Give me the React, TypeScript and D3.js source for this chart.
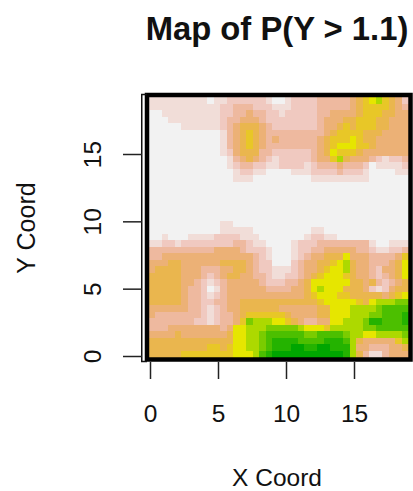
// App.tsx - map of P(Y > 1.1), drawn like an R image() plot
import React, { useRef, useEffect } from 'react';
import { select, scaleLinear, scaleBand, scaleOrdinal, axisBottom, axisLeft, range } from 'd3';

const WIDTH = 413;
const HEIGHT = 491;

const xTicks = [0, 5, 10, 15];
const yTicks = [0, 5, 10, 15];

// probability classes, low to high
const levels = '0123456789abc'.split('');
const levelColors = [
    '#F2F2F2', '#F1DDD8', '#F0C9C0', '#EEB99F', '#ECB176', '#EAB64E', '#E8C727',
    '#E6E600', '#ADD900', '#7ACC00', '#4CBF00', '#24B300', '#00A600',
];

// one string per row from the top of the map, one character per cell
const grid = [
    '1111111110 1122222210 0122223333 3456786542',
    '1111111111 1223332221 1122223333 3456666543',
    '0011111111 1223343322 1222223344 4456665544',
    '0001111111 1233444322 2222223444 5566655444',
    '0000011111 1234555432 2222223445 6566655444',
    '0000000000 0134565433 3333333456 6665554444',
    '0000000000 0134565434 3333334566 6765544444',
    '0000000000 0134565433 3333334567 7766544444',
    '0000000000 0124555332 2222234576 6654444444',
    '0000000000 0013454321 2222234468 5444321223',
    '0000000000 0012332211 2222123334 3332011112',
    '0000000000 0001221100 0011122223 2221000011',
    '0000000000 0001110000 0000011111 1111000000',
    '0000000000 0000000000 0000000000 0000000000',
    '0000000000 0000000000 0000000000 0000000000',
    '0000000000 0000000000 0000000000 0000000000',
    '0000000000 0000000000 0000000000 0000000000',
    '0000000000 0000000000 0000000000 0000000000',
    '0000000000 0000000000 0000000000 0000000000',
    '0000000000 0110000000 0000000000 0000000000',
    '0000000000 0111110000 0000011000 0000000000',
    '0010001111 2222111000 0000122110 0000000000',
    '1122122222 2223321100 0012223333 3333100111',
    '3333333333 4444322210 0012233444 4433211223',
    '3344444444 4444443210 0012344555 7444333346',
    '4445544444 4555543220 0023445567 8544333457',
    '4555544433 3445543221 1123445677 8544324457',
    '5555544432 3455443321 1223456777 6544323457',
    '5555544321 2344444322 2334577777 7554532345',
    '5555543320 1344444433 3344578777 5554212455',
    '5555543321 2344444444 4444567776 6555554567',
    '5555543322 3344555555 5555556777 7765788899',
    '4444443321 2344555555 4444445577 788889aaaa',
    '4333333321 2334566666 6544445577 788899aaab',
    '3333333221 2334698887 7654334477 8889bbaaab',
    '3334444444 4347788899 9998777688 88899aaaaa',
    '4444544444 4457788 9aa aaaa99aaaa 9887788889',
    '5555555555 5557788 9ab bbbaaaabbb a854444468',
    '5555555556 6567788 9ab bbccbbccbb b844333445',
    '5555566666 6667778abc cccccccccc b853113444',
].map(row => row.replace(/ /g, '').split(''));

const FONT = 'Liberation Sans';

const Chart = () => {
    const ref = useRef<SVGSVGElement>(null);

    useEffect(() => {
        const svg = select(ref.current);
        svg.selectAll('*').remove();

        // plot region inside the frame
        const left = 149, right = 408, top = 97, bottom = 357;

        const x = scaleLinear().domain([0, 15]).range([150, 354]);
        const y = scaleLinear().domain([0, 15]).range([356, 154]);
        const col = scaleBand<number>().domain(range(40)).range([left, right]);
        const row = scaleBand<number>().domain(range(40)).range([top, bottom]);
        const color = scaleOrdinal<string, string>().domain(levels).range(levelColors);

        // the reference is a soft, upscaled screenshot
        const blur = svg.append('filter')
            .attr('id', 'soft')
            .attr('color-interpolation-filters', 'sRGB');
        blur.append('feGaussianBlur').attr('stdDeviation', 0.55);

        // cells
        const cells = grid.flatMap((r, j) => r.map((v, i) => ({ i, j, v })));
        svg.append('g')
            .attr('shape-rendering', 'crispEdges')
            .attr('filter', 'url(#soft)')
            .selectAll('rect')
            .data(cells)
            .enter()
            .append('rect')
            .attr('x', d => col(d.i))
            .attr('y', d => row(d.j))
            .attr('width', col.bandwidth() + 0.5)
            .attr('height', row.bandwidth() + 0.5)
            .style('fill', d => color(d.v));

        // frame: heavy box plus the thin doubled line on the left
        svg.append('rect')
            .attr('x', 147)
            .attr('y', 95)
            .attr('width', 263.5)
            .attr('height', 264.5)
            .attr('fill', 'none')
            .attr('stroke', '#000')
            .attr('stroke-width', 4.5);
        svg.append('path')
            .attr('d', 'M147,94.5H141.75V361.5H147')
            .attr('fill', 'none')
            .attr('stroke', '#111')
            .attr('stroke-width', 1.5);

        // axes
        const xAxis = svg.append('g')
            .attr('transform', 'translate(0,362)')
            .call(axisBottom(x).tickValues(xTicks).tickSize(17).tickPadding(26));
        const yAxis = svg.append('g')
            .attr('transform', 'translate(142,0)')
            .call(axisLeft(y).tickValues(yTicks).tickSize(19).tickPadding(0));

        xAxis.select('.domain').remove();
        yAxis.select('.domain').remove();
        xAxis.selectAll('line').attr('stroke', '#222').attr('stroke-width', 1.5);
        yAxis.selectAll('line').attr('stroke', '#222').attr('stroke-width', 1.5);

        xAxis.selectAll('text')
            .attr('font-size', 24.5)
            .attr('font-family', FONT)
            .attr('fill', '#111');

        // R draws y tick labels turned on their side
        yAxis.selectAll('text')
            .attr('font-size', 24.5)
            .attr('font-family', FONT)
            .attr('fill', '#111')
            .attr('text-anchor', 'middle')
            .attr('dy', 0)
            .attr('x', 0)
            .attr('y', 0)
            .attr('transform', 'translate(-50,0) rotate(-90)')
            .attr('dominant-baseline', 'central');

        // titles
        svg.append('text')
            .attr('x', 277)
            .attr('y', 40)
            .attr('text-anchor', 'middle')
            .attr('font-size', 32.8)
            .attr('font-weight', 'bold')
            .attr('font-family', FONT)
            .attr('fill', '#111')
            .text('Map of P(Y > 1.1)');

        svg.append('text')
            .attr('x', 277)
            .attr('y', 485.5)
            .attr('text-anchor', 'middle')
            .attr('font-size', 24.5)
            .attr('font-family', FONT)
            .attr('fill', '#111')
            .text('X Coord');

        svg.append('text')
            .attr('transform', 'translate(35,228) rotate(-90)')
            .attr('text-anchor', 'middle')
            .attr('font-size', 25)
            .attr('font-family', FONT)
            .attr('fill', '#111')
            .text('Y Coord');
    }, []);

    return (
        <svg
            ref={ref}
            width={WIDTH}
            height={HEIGHT}
            style={{ position: 'absolute', left: 0, top: 0, background: '#fff' }}
        ></svg>
    );
};

export default function App() {
    return <Chart />;
}
